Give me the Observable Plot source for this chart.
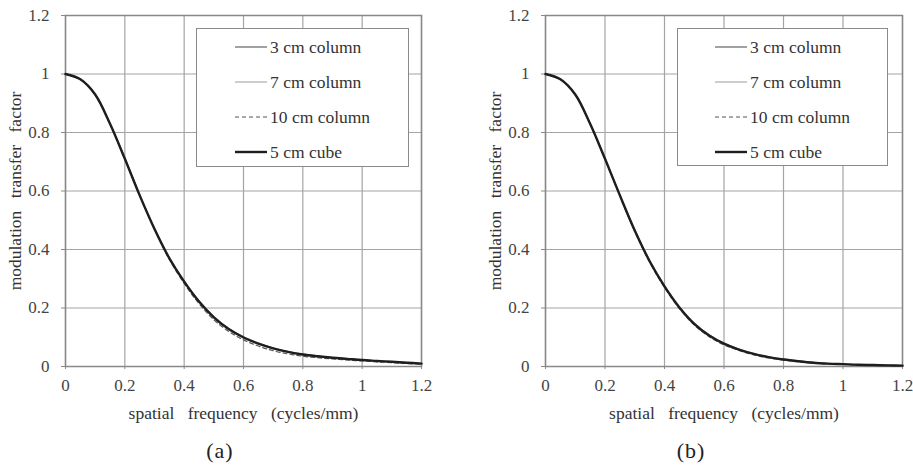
<!DOCTYPE html>
<html><head><meta charset="utf-8">
<script src="https://cdn.jsdelivr.net/npm/d3@7"></script>
<script src="https://cdn.jsdelivr.net/npm/@observablehq/plot@0.6"></script>
<style>
body{margin:0;background:#fff;font-family:"Liberation Serif","DejaVu Serif",serif;}
#wrap{position:relative;width:913px;height:473px;overflow:hidden;}
.panel{position:absolute;top:0;}
svg, svg text{font-family:"Liberation Serif","DejaVu Serif",serif !important;}
.caption{position:absolute;top:438px;font-size:22px;color:#222;width:60px;text-align:center;letter-spacing:1px;font-family:"Liberation Serif","DejaVu Serif",serif;}
.legend{position:absolute;border:1.5px solid #8a8a8a;background:#fff;box-sizing:border-box;font-family:"Liberation Serif","DejaVu Serif",serif;}
.legend .row{position:absolute;left:0;height:20px;display:flex;align-items:center;font-size:17.5px;color:#333;white-space:nowrap;}
.legend svg{display:block;margin-right:3px;}
</style>
</head><body>
<div id="wrap"></div>
<script>
// ---- data ----
const freq = [0,0.05,0.1,0.15,0.2,0.25,0.3,0.35,0.4,0.45,0.5,0.55,0.6,0.65,0.7,0.75,0.8,0.85,0.9,0.95,1.0,1.05,1.1,1.15,1.2];

const seriesNames = ["3 cm column","7 cm column","10 cm column","5 cm cube"];

// panel (a)
const a_col3  = [1,0.982,0.930,0.830,0.712,0.587,0.472,0.372,0.292,0.224,0.170,0.130,0.101,0.080,0.063,0.051,0.042,0.035,0.030,0.026,0.022,0.019,0.016,0.013,0.010];
const a_col7  = [1,0.982,0.930,0.830,0.712,0.587,0.472,0.371,0.290,0.222,0.168,0.128,0.099,0.078,0.061,0.049,0.040,0.034,0.029,0.025,0.021,0.018,0.015,0.012,0.009];
const a_col10 = [1,0.982,0.930,0.829,0.710,0.585,0.469,0.366,0.284,0.215,0.160,0.120,0.091,0.070,0.054,0.043,0.035,0.030,0.026,0.022,0.019,0.016,0.013,0.010,0.008];
const a_cube5 = [1,0.982,0.930,0.830,0.710,0.585,0.470,0.370,0.290,0.222,0.168,0.128,0.099,0.078,0.062,0.050,0.041,0.035,0.030,0.026,0.022,0.019,0.016,0.013,0.010];

// panel (b)
const b_col3  = [1,0.982,0.930,0.830,0.711,0.586,0.466,0.362,0.276,0.204,0.148,0.108,0.079,0.059,0.044,0.033,0.025,0.019,0.014,0.010,0.008,0.006,0.005,0.004,0.003];
const b_col7  = [1,0.982,0.930,0.830,0.710,0.585,0.465,0.361,0.275,0.203,0.147,0.107,0.078,0.058,0.043,0.032,0.024,0.018,0.013,0.010,0.008,0.006,0.005,0.004,0.003];
const b_col10 = [1,0.982,0.930,0.829,0.709,0.583,0.462,0.357,0.270,0.198,0.142,0.102,0.074,0.055,0.040,0.029,0.022,0.016,0.012,0.009,0.007,0.005,0.004,0.003,0.003];
const b_cube5 = [1,0.982,0.930,0.830,0.710,0.585,0.465,0.360,0.274,0.202,0.146,0.106,0.078,0.058,0.043,0.032,0.024,0.018,0.013,0.010,0.008,0.006,0.005,0.004,0.003];

const tickValues = [0,0.2,0.4,0.6,0.8,1,1.2];
const tickLabels = ["0","0.2","0.4","0.6","0.8","1","1.2"];
const xTitle = "spatial frequency (cycles/mm)";
const yTitle = "modulation transfer factor";
const panelLabels = ["(a)","(b)"];

// ---- styles ----
const styles = [
  {stroke:"#7a7a7a", strokeWidth:1.4, dash:null},
  {stroke:"#b8b8b8", strokeWidth:1.4, dash:null},
  {stroke:"#555", strokeWidth:1.2, dash:"4,3"},
  {stroke:"#1e1e1e", strokeWidth:2.4, dash:null}
];

function long(arrs){
  const rows=[];
  arrs.forEach((arr,si)=>arr.forEach((v,i)=>rows.push({f:freq[i],v,s:seriesNames[si]})));
  return rows;
}

function makePanel(arrs, opt){
  const rows = long(arrs);
  const fmt = d => tickLabels[tickValues.indexOf(d)] ?? d;
  const marks = [
    Plot.gridX(tickValues,{stroke:"#a4a4a4",strokeOpacity:1,strokeWidth:1.2}),
    Plot.gridY(tickValues,{stroke:"#a4a4a4",strokeOpacity:1,strokeWidth:1.2}),
    Plot.frame({stroke:"#888",strokeWidth:1.5}),
    Plot.axisX(tickValues,{tickFormat:fmt,tickSize:3,tickPadding:9,stroke:"#888",fill:"#444",fontSize:17,label:null}),
    Plot.axisY(tickValues,{tickFormat:fmt,tickSize:4,tickPadding:12,stroke:"#888",fill:"#444",fontSize:17,label:null}),
    Plot.text([xTitle],{frameAnchor:"bottom",dy:47,textAnchor:"middle",lineAnchor:"middle",text:d=>d,fontSize:17.5,fill:"#333"}),
    Plot.text([yTitle],{frameAnchor:"left",dx:-50,rotate:-90,textAnchor:"middle",lineAnchor:"middle",text:d=>d,fontSize:17.5,fill:"#333"})
  ];
  seriesNames.forEach((name,si)=>{
    const st=styles[si];
    marks.push(Plot.line(rows.filter(r=>r.s===name),{x:"f",y:"v",curve:"catmull-rom",stroke:st.stroke,strokeWidth:st.strokeWidth,strokeDasharray:st.dash}));
  });
  const svg = Plot.plot({
    width:opt.width,height:430,
    marginTop:15,marginBottom:64,marginLeft:opt.ml,marginRight:opt.mr,
    style:{fontFamily:'"Liberation Serif","DejaVu Serif",serif',background:"transparent"},
    x:{domain:[0,1.2]},
    y:{domain:[0,1.2]},
    marks
  });
  svg.querySelectorAll("text").forEach(t=>{ if(t.textContent===xTitle) t.style.wordSpacing="9px"; if(t.textContent===yTitle) t.style.wordSpacing="8px"; });
  return svg;
}

const wrap=document.getElementById("wrap");

function addPanel(arrs,left,opt,legendBox,capX,label){
  const div=document.createElement("div");
  div.className="panel";div.style.left=left+"px";
  div.appendChild(makePanel(arrs,opt));
  wrap.appendChild(div);
  const lg=document.createElement("div");
  lg.className="legend";
  Object.assign(lg.style,{left:legendBox.x+"px",top:legendBox.y+"px",width:legendBox.w+"px",height:legendBox.h+"px"});
  seriesNames.forEach((name,si)=>{
    const st=styles[si];
    const row=document.createElement("div");
    row.className="row";
    row.style.top=(8+si*35)+"px";
    row.style.left=legendBox.lx+"px";
    row.innerHTML=`<svg width="32" height="10"><line x1="0" y1="5" x2="32" y2="5" stroke="${st.stroke}" stroke-width="${st.strokeWidth}" ${st.dash?`stroke-dasharray="${st.dash}"`:""}/></svg>${name}`;
    lg.appendChild(row);
  });
  wrap.appendChild(lg);
  const cap=document.createElement("div");
  cap.className="caption";cap.textContent=label;cap.style.left=(capX-30)+"px";
  wrap.appendChild(cap);
}

addPanel([a_col3,a_col7,a_col10,a_cube5],0,{width:460,ml:65,mr:39},{x:196,y:28,w:213,h:139,lx:38},220,panelLabels[0]);
addPanel([b_col3,b_col7,b_col10,b_cube5],460,{width:453,ml:85,mr:11},{x:677,y:28,w:211,h:138,lx:37},691,panelLabels[1]);
</script>
</body></html>
